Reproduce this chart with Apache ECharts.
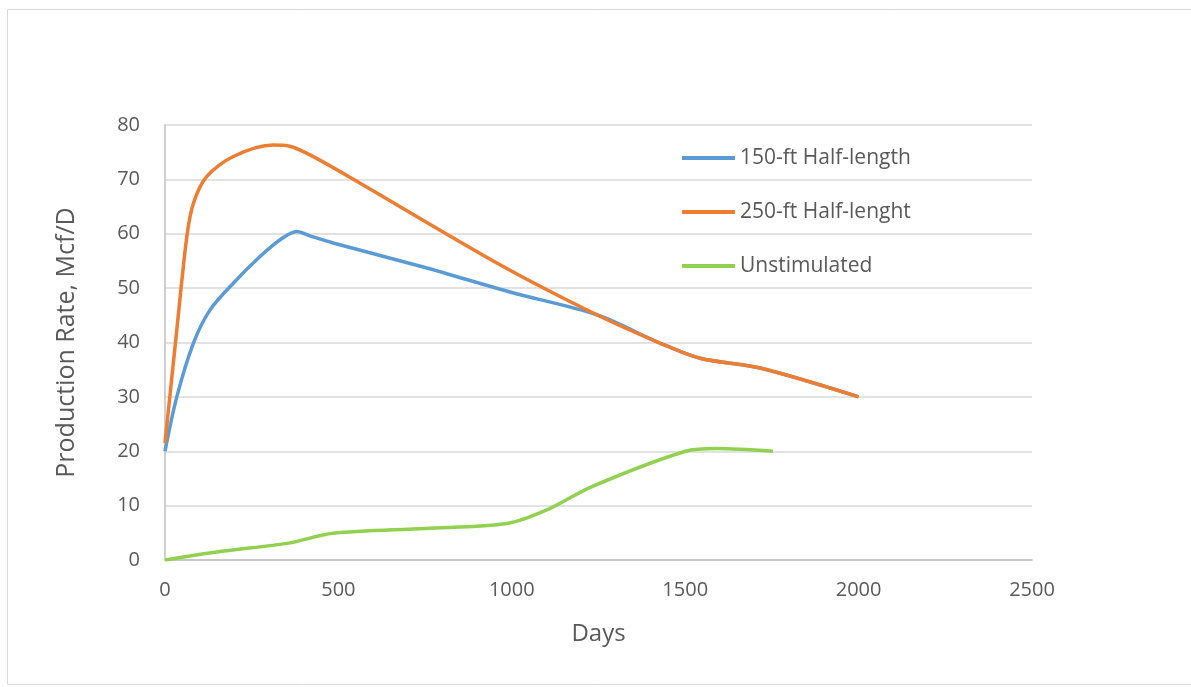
<!DOCTYPE html>
<html>
<head>
<meta charset="utf-8">
<script src="https://cdn.jsdelivr.net/npm/echarts@6/dist/echarts.min.js"></script>
<style>
  html, body { margin: 0; padding: 0; background: #fff; }
  #main { width: 1191px; height: 687px; }
</style>
</head>
<body>
<div id="main"></div>
<script>
// series names, as in the legend
var seriesNames = ['150-ft Half-length', '250-ft Half-lenght', 'Unstimulated'];

// [days, Mcf/D]
var halfLength150 = [
  [0, 20], [34, 30], [82, 39.9], [130, 46], [197, 50.9], [274, 55.8], [332, 58.9],
  [380, 60.4], [418, 59.6], [485, 58.3], [750, 53.8], [1000, 49.2], [1245, 45.1],
  [1427, 39.9], [1543, 37.1], [1716, 35.3], [2000, 30]
];
var halfLength250 = [
  [0, 21.5], [34, 42.3], [63, 59.5], [82, 65.6], [120, 70.5], [197, 74.2], [312, 76.3],
  [360, 76.1], [418, 74.5], [533, 70.4], [966, 54.3], [1245, 45.1], [1427, 39.9],
  [1543, 37.1], [1716, 35.3], [2000, 30]
];
var unstimulated = [
  [0, 0], [163, 1.6], [356, 3.1], [484, 4.9], [750, 5.8], [986, 6.7], [1101, 9.2],
  [1231, 13.5], [1501, 20], [1592, 20.5], [1753, 20]
];

var colors = ['#5B9BD5', '#ED7D31', '#92D050'];
var font = '"Open Sans", sans-serif';
var txt = '#595959';

var myChart = echarts.init(document.getElementById('main'));

function line(name, data, color) {
  return {
    name: name,
    type: 'line',
    data: data,
    smooth: 0.3,
    showSymbol: false,
    symbol: 'none',
    lineStyle: { color: color, width: 3.5 },
    itemStyle: { color: color },
    animation: false
  };
}

option = {
  color: colors,
  graphic: [{
    type: 'rect',
    shape: { x: 7.5, y: 9.5, width: 1200, height: 675 },
    style: { fill: 'none', stroke: '#d9d9d9', lineWidth: 1 },
    silent: true
  }],
  grid: { left: 165, right: 159, top: 125, bottom: 127 },
  legend: {
    orient: 'vertical',
    left: 677,
    top: 141,
    itemWidth: 53,
    itemHeight: 4,
    itemGap: 30,
    icon: 'rect',
    data: seriesNames,
    textStyle: { fontFamily: font, fontSize: 21, color: txt, lineHeight: 24 }
  },
  xAxis: {
    type: 'value',
    min: 0,
    max: 2500,
    interval: 500,
    name: 'Days',
    nameLocation: 'middle',
    nameGap: 62,
    nameTextStyle: { fontFamily: font, fontSize: 24, color: txt },
    axisLine: { show: true, lineStyle: { color: '#bfbfbf', width: 1.5 } },
    axisTick: { show: false },
    splitLine: { show: false },
    axisLabel: {
      fontFamily: font, fontSize: 20, color: txt, margin: 20,
      formatter: function (v) { return String(v); }
    }
  },
  yAxis: {
    type: 'value',
    min: 0,
    max: 80,
    interval: 10,
    name: 'Production Rate, Mcf/D',
    nameLocation: 'middle',
    nameGap: 86,
    nameTextStyle: { fontFamily: font, fontSize: 25, color: txt },
    axisLine: { show: true, lineStyle: { color: '#bfbfbf', width: 1.5 } },
    axisTick: { show: false },
    splitLine: { show: true, lineStyle: { color: '#d9d9d9', width: 1.5 } },
    axisLabel: { fontFamily: font, fontSize: 20, color: txt, margin: 25 }
  },
  series: [
    line(seriesNames[0], halfLength150, colors[0]),
    line(seriesNames[1], halfLength250, colors[1]),
    line(seriesNames[2], unstimulated, colors[2])
  ]
};
myChart.setOption(option);
</script>
</body>
</html>
